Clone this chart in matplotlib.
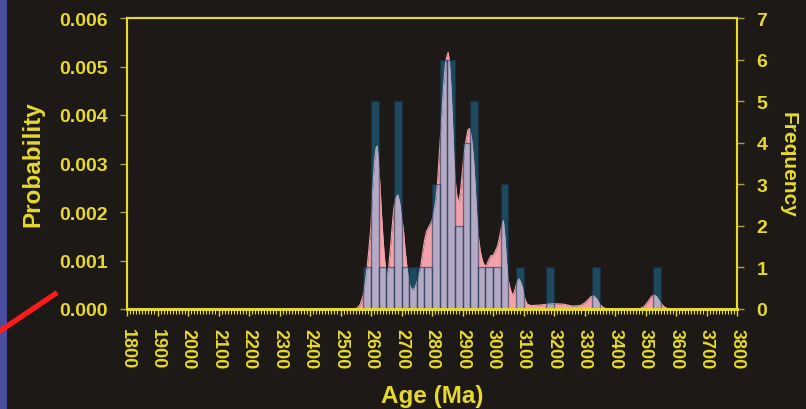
import numpy as np
import matplotlib
matplotlib.use('Agg')
import matplotlib.pyplot as plt
from matplotlib.patches import Rectangle
from matplotlib.lines import Line2D
from matplotlib.ticker import MultipleLocator, FormatStrFormatter

BG        = '#1d1917'
YELLOW    = '#e6d92c'
TICK_COL  = '#a89f4a'
PINK      = '#f3a2ab'
BAR_RGBA  = (0.15, 0.74, 1.0, 0.30)
EDGE_RGBA = (0.10, 0.16, 0.31, 0.55)
BIN_WIDTH = 25

# histogram (frequency), left bin edges in Ma
BIN_START = [2575, 2600, 2625, 2650, 2675, 2700, 2725, 2750, 2775, 2800,
             2825, 2850, 2875, 2900, 2925, 2950, 2975, 3000, 3025, 3075,
             3175, 3325, 3525]
BIN_COUNT = [1, 5, 1, 1, 5, 1, 1, 1, 1, 3,
             6, 6, 2, 4, 5, 1, 1, 1, 3, 1,
             1, 1, 1]

# probability density curve
CURVE_AGE = [2540, 2555, 2565, 2575, 2582, 2588, 2594, 2599, 2605, 2611,
             2616, 2620, 2624, 2629, 2634, 2640, 2645, 2651, 2657, 2663,
             2668, 2675, 2682, 2688, 2694, 2700, 2706, 2712, 2719, 2727,
             2735, 2745, 2753, 2761, 2768, 2775, 2782, 2790, 2799, 2806,
             2812, 2818, 2823, 2828, 2833, 2838, 2843, 2848, 2853, 2857,
             2862, 2867, 2872, 2877, 2882, 2887, 2893, 2899, 2905, 2912,
             2918, 2924, 2930, 2936, 2941, 2946, 2952, 2958, 2965, 2972,
             2978, 2985, 2993, 3000, 3008, 3015, 3022, 3028, 3034, 3039,
             3044, 3050, 3057, 3065, 3072, 3079, 3085, 3091, 3098, 3105,
             3112, 3125, 3150, 3180, 3200, 3230, 3260, 3285, 3300, 3313,
             3322, 3330, 3340, 3350, 3362, 3375, 3480, 3495, 3508, 3520,
             3528, 3537, 3547, 3560, 3575]
CURVE_PROB = [0.0, 0.00002, 0.0001, 0.0003, 0.0006, 0.0009, 0.0013, 0.00165, 0.0024, 0.0030,
              0.0033, 0.00336, 0.0031, 0.0026, 0.0020, 0.0014, 0.0010, 0.0007, 0.0008, 0.0012,
              0.0016, 0.0021, 0.0023, 0.00235, 0.0022, 0.0019, 0.00165, 0.0012, 0.0008, 0.0005,
              0.00038, 0.00045, 0.0006, 0.0008, 0.0011, 0.0014, 0.0016, 0.0017, 0.0018, 0.0020,
              0.0022, 0.0026, 0.0031, 0.0036, 0.0041, 0.0046, 0.0050, 0.0052, 0.00529, 0.0051,
              0.0046, 0.0039, 0.0031, 0.0026, 0.0023, 0.0022, 0.0024, 0.0028, 0.0032, 0.0035,
              0.0037, 0.00372, 0.0035, 0.0031, 0.0026, 0.0020, 0.0015, 0.0012, 0.0010, 0.0009,
              0.00089, 0.0010, 0.0011, 0.0011, 0.0012, 0.0013, 0.0015, 0.0017, 0.00182, 0.0015,
              0.0010, 0.0006, 0.0004, 0.00027, 0.0004, 0.00056, 0.00062, 0.00055, 0.0004, 0.0002,
              0.0001, 0.00007, 0.00008, 0.0001, 0.00011, 0.0001, 0.00006, 0.00007, 0.00012, 0.0002,
              0.00026, 0.00027, 0.00021, 0.0001, 0.00003, 0.0, 0.0, 0.00005, 0.00015, 0.00026,
              0.00029, 0.00025, 0.00015, 0.00005, 0.0]

plt.rcParams['font.family'] = ['Liberation Sans', 'DejaVu Sans']
plt.rcParams['font.weight'] = 'bold'

fig = plt.figure(figsize=(8.06, 4.10), dpi=100, facecolor=BG)

# slide leftovers: blue strip and red pointer line
fig.patches.append(Rectangle((0, 0), 7 / 806, 1, transform=fig.transFigure,
                             facecolor='#4b4d9e', edgecolor='none'))
fig.lines.append(Line2D([0, 55 / 806], [1 - 332 / 410, 1 - 295 / 410],
                        color='#ff1a1a', lw=3.8, transform=fig.transFigure))

ax = fig.add_axes([127 / 806, 1 - 310 / 410, 610 / 806, 291 / 410])
ax.set_facecolor(BG)
ax2 = ax.twinx()

ax.fill_between(CURVE_AGE, CURVE_PROB, color=PINK, linewidth=0)
ax.plot(CURVE_AGE, CURVE_PROB, color=PINK, lw=0.8)

ax2.bar(BIN_START, BIN_COUNT, width=BIN_WIDTH, align='edge',
        color=BAR_RGBA, edgecolor=EDGE_RGBA, linewidth=1.0)

ax.set_xlim(1800, 3800)
ax.set_ylim(0, 0.006)
ax2.set_ylim(0, 7)

ax.xaxis.set_major_locator(MultipleLocator(100))
ax.xaxis.set_minor_locator(MultipleLocator(10))
ax.yaxis.set_major_locator(MultipleLocator(0.001))
ax.yaxis.set_major_formatter(FormatStrFormatter('%.3f'))
ax2.yaxis.set_major_locator(MultipleLocator(1))

ax.tick_params(axis='y', direction='out', length=5, width=1, color=TICK_COL,
               labelcolor=YELLOW, labelsize=14, pad=9)
ax.tick_params(axis='x', which='major', direction='out', length=5, width=1,
               color=YELLOW, labelcolor=YELLOW, labelsize=13, labelrotation=-90, pad=9)
ax.tick_params(axis='x', which='minor', direction='out', length=3.5, width=0.8, color=YELLOW)
ax2.tick_params(axis='y', direction='out', length=5, width=1, color=TICK_COL,
                labelcolor=YELLOW, labelsize=14, pad=9)

for a in (ax, ax2):
    for side, sp in a.spines.items():
        sp.set_color(YELLOW)
        sp.set_linewidth(2.0 if side == 'bottom' else 1.5)

ax.set_xlabel('Age (Ma)', fontsize=17.5, color=YELLOW, fontweight='bold')
ax.xaxis.set_label_coords(0.5, (310 - 397) / 291)
ax.xaxis.label.set_va('center')

ax.set_ylabel('Probability', fontsize=17.5, color=YELLOW, fontweight='bold')
ax.yaxis.set_label_coords((33 - 127) / 610, 0.5)
ax.yaxis.label.set_va('center')

ax2.set_ylabel('Frequency', fontsize=15, color=YELLOW, fontweight='bold', rotation=270)
ax2.yaxis.set_label_coords((788 - 127) / 610, 0.5)
ax2.yaxis.label.set_va('center')

fig.savefig('out.png', dpi=100, facecolor=BG)
